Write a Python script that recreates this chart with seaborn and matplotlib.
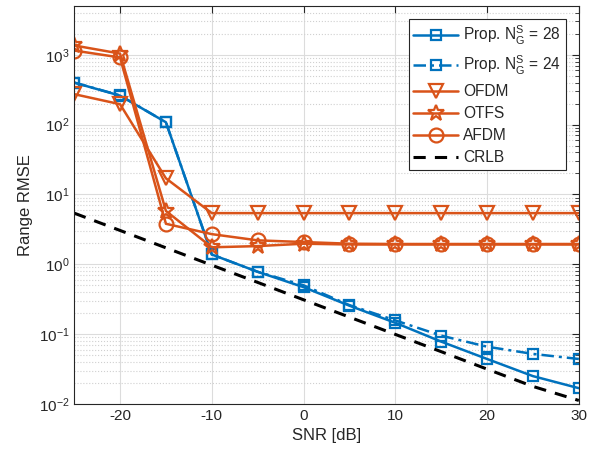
import numpy as np
import pandas as pd
import matplotlib
matplotlib.use("Agg")
import matplotlib.pyplot as plt
import seaborn as sns

# SNR grid (dB)
snr = [-25, -20, -15, -10, -5, 0, 5, 10, 15, 20, 25, 30]

# range RMSE
prop28 = [400, 260, 108, 1.38, 0.78, 0.47, 0.255, 0.145, 0.078, 0.044, 0.025, 0.0168]
prop24 = [400, 262, 108, 1.38, 0.78, 0.50, 0.26, 0.157, 0.095, 0.066, 0.052, 0.044]
ofdm = [273, 196, 17, 5.4, 5.4, 5.4, 5.4, 5.4, 5.4, 5.4, 5.4, 5.4]
otfs = [1360, 1040, 5.8, 1.75, 1.82, 1.97, 1.92, 1.92, 1.92, 1.92, 1.92, 1.92]
afdm = [1150, 915, 3.8, 2.7, 2.2, 2.08, 1.97, 1.95, 1.95, 1.95, 1.95, 1.95]
crlb = [5.4, 3.05, 1.72, 0.97, 0.55, 0.31, 0.175, 0.099, 0.056, 0.0315, 0.0178, 0.0112]

blue = "#0072BD"
orange = "#D95319"

sns.set_style("white")
plt.rcParams['font.family'] = ['Liberation Sans', 'DejaVu Sans']
plt.rcParams['mathtext.fontset'] = 'custom'
plt.rcParams['mathtext.rm'] = 'Liberation Sans'
plt.rcParams['mathtext.it'] = 'Liberation Sans'
plt.rcParams['axes.unicode_minus'] = False

fig, ax = plt.subplots(figsize=(5.98, 4.59), dpi=100)
fig.subplots_adjust(left=0.124, right=0.968, top=0.987, bottom=0.12)

series = [
    (r'Prop. $\mathregular{N_G^S}$ = 28', prop28, blue, '-', 's', 7),
    (r'Prop. $\mathregular{N_G^S}$ = 24', prop24, blue, (0, (5, 2, 1.2, 2)), 's', 7),
    ('OFDM', ofdm, orange, '-', 'v', 10),
    ('OTFS', otfs, orange, '-', '*', 12),
    ('AFDM', afdm, orange, '-', 'o', 10),
]
for name, vals, col, ls, mk, ms in series:
    df = pd.DataFrame({'SNR': snr, 'RMSE': vals})
    sns.lineplot(data=df, x='SNR', y='RMSE', ax=ax, color=col, linestyle=ls,
                 linewidth=1.8, marker=mk, markersize=ms, markerfacecolor='none',
                 markeredgecolor=col, markeredgewidth=1.6, label=name)

df = pd.DataFrame({'SNR': snr, 'RMSE': crlb})
sns.lineplot(data=df, x='SNR', y='RMSE', ax=ax, color='black', linestyle=(0, (4, 3)),
             linewidth=2.2, label='CRLB')

ax.set_yscale('log')
ax.set_xlim(-25, 30)
ax.set_ylim(1e-2, 5000)
ax.set_xticks([-20, -10, 0, 10, 20, 30])
ax.set_xlabel('SNR [dB]', fontsize=12)
ax.set_ylabel('Range RMSE', fontsize=12)
ax.tick_params(axis='both', which='both', direction='in', top=True, right=True,
               labelsize=11, color='#262626')
ax.tick_params(axis='both', which='major', length=5)
ax.tick_params(axis='y', which='minor', length=3)
ax.grid(True, which='major', color='#dcdcdc', linestyle='-', linewidth=0.8)
ax.grid(True, which='minor', axis='y', color='#d0d0d0', linestyle=':', linewidth=0.8)
for s in ax.spines.values():
    s.set_color('#262626')
    s.set_linewidth(0.8)

leg = ax.legend(loc='upper right', bbox_to_anchor=(0.974, 0.967), borderaxespad=0,
                fontsize=11.2, handlelength=2.9, frameon=True,
                fancybox=False, edgecolor='#262626', framealpha=1,
                borderpad=0.3, labelspacing=0.45, handletextpad=0.3)
leg.get_frame().set_linewidth(0.8)

plt.savefig("out.png", dpi=100)
